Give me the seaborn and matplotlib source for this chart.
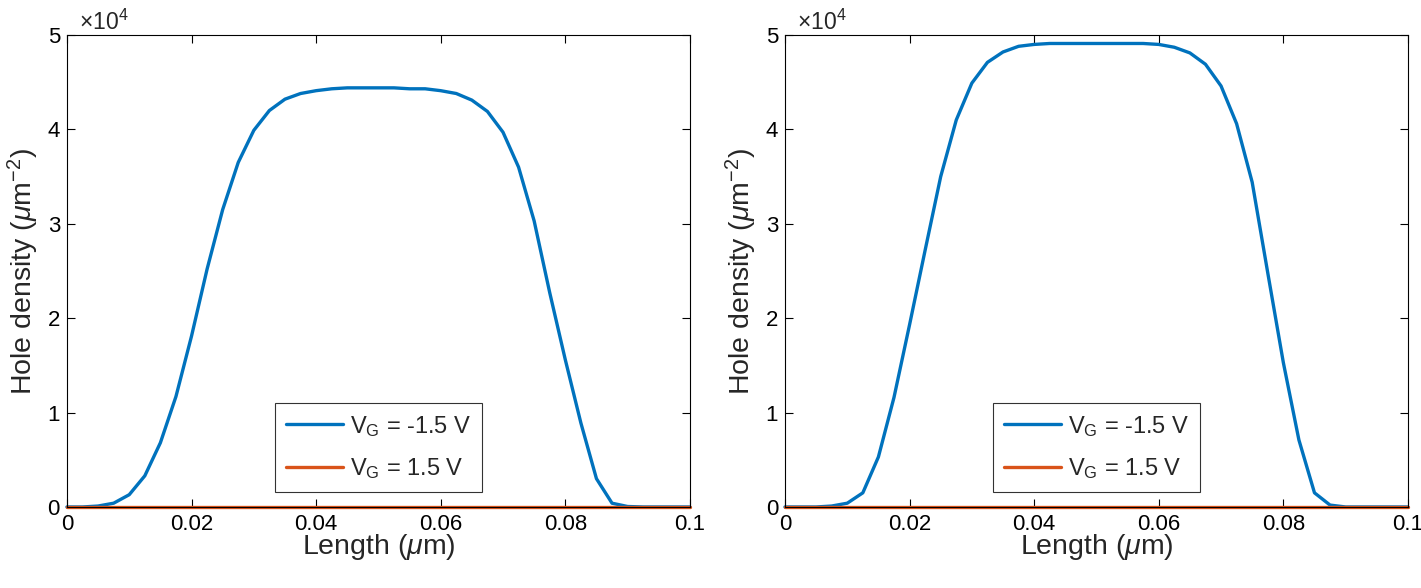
import matplotlib
matplotlib.use("Agg")
import matplotlib.pyplot as plt
import pandas as pd
import seaborn as sns

# длина канала, мкм
length_um = [0.0, 0.0025, 0.005, 0.0075, 0.01, 0.0125, 0.015, 0.0175, 0.02, 0.0225,
             0.025, 0.0275, 0.03, 0.0325, 0.035, 0.0375, 0.04, 0.0425, 0.045, 0.0475,
             0.05, 0.0525, 0.055, 0.0575, 0.06, 0.0625, 0.065, 0.0675, 0.07, 0.0725,
             0.075, 0.0775, 0.08, 0.0825, 0.085, 0.0875, 0.09, 0.0925, 0.095, 0.0975, 0.1]

# плотность дырок, x1e4 мкм^-2
left_neg = [0.0, 0.0, 0.01, 0.04, 0.13, 0.33, 0.68, 1.17, 1.81, 2.52,
            3.15, 3.65, 3.99, 4.20, 4.32, 4.38, 4.41, 4.43, 4.44, 4.44,
            4.44, 4.44, 4.43, 4.43, 4.41, 4.38, 4.31, 4.19, 3.97, 3.60,
            3.03, 2.27, 1.56, 0.89, 0.30, 0.04, 0.005, 0.0, 0.0, 0.0, 0.0]
left_pos = [0.0, 0.0, 0.0, 0.0, 0.0, 0.0, 0.0, 0.0, 0.0, 0.0,
            0.0, 0.0, 0.0, 0.0, 0.0, 0.0, 0.0, 0.0, 0.0, 0.0,
            0.0, 0.0, 0.0, 0.0, 0.0, 0.0, 0.0, 0.0, 0.0, 0.0,
            0.0, 0.0, 0.0, 0.0, 0.0, 0.0, 0.0, 0.0, 0.0, 0.0, 0.0]

right_neg = [0.0, 0.0, 0.0, 0.01, 0.04, 0.15, 0.53, 1.16, 1.93, 2.72,
             3.50, 4.10, 4.49, 4.71, 4.82, 4.88, 4.90, 4.91, 4.91, 4.91,
             4.91, 4.91, 4.91, 4.91, 4.90, 4.87, 4.81, 4.69, 4.46, 4.06,
             3.44, 2.48, 1.53, 0.71, 0.15, 0.02, 0.0, 0.0, 0.0, 0.0, 0.0]
right_pos = [0.0, 0.0, 0.0, 0.0, 0.0, 0.0, 0.0, 0.0, 0.0, 0.0,
             0.0, 0.0, 0.0, 0.0, 0.0, 0.0, 0.0, 0.0, 0.0, 0.0,
             0.0, 0.0, 0.0, 0.0, 0.0, 0.0, 0.0, 0.0, 0.0, 0.0,
             0.0, 0.0, 0.0, 0.0, 0.0, 0.0, 0.0, 0.0, 0.0, 0.0, 0.0]

labels = [r'V$_\mathrm{G}$ = -1.5 V', r'V$_\mathrm{G}$ = 1.5 V']
colors = ['#0072BD', '#D95319']
x_ticks = [0, 0.02, 0.04, 0.06, 0.08, 0.1]
x_tick_labels = ['0', '0.02', '0.04', '0.06', '0.08', '0.1']
y_ticks = [0, 1, 2, 3, 4, 5]

sns.set_style('ticks')
plt.rcParams['font.family'] = ['Liberation Sans', 'DejaVu Sans']
plt.rcParams['mathtext.fontset'] = 'custom'
plt.rcParams['mathtext.rm'] = 'Liberation Sans'
plt.rcParams['mathtext.it'] = 'Liberation Sans:italic'
plt.rcParams['mathtext.sf'] = 'Liberation Sans'

fig = plt.figure(figsize=(14.21, 5.88), dpi=100)
ax_left = fig.add_axes([0.0471, 0.1378, 0.4384, 0.8027])
ax_right = fig.add_axes([0.5524, 0.1378, 0.4384, 0.8027])

panels = [(ax_left, left_neg, left_pos), (ax_right, right_neg, right_pos)]

for ax, neg, pos in panels:
    df = pd.DataFrame({
        'length': length_um * 2,
        'density': neg + pos,
        'bias': [labels[0]] * len(length_um) + [labels[1]] * len(length_um),
    })
    sns.lineplot(data=df, x='length', y='density', hue='bias', hue_order=labels,
                 palette=colors, linewidth=2.4, ax=ax, legend=False, clip_on=False)

    ax.set_xlim(0, 0.1)
    ax.set_ylim(0, 5)
    ax.set_xticks(x_ticks)
    ax.set_xticklabels(x_tick_labels)
    ax.set_yticks(y_ticks)
    ax.tick_params(direction='in', length=6, width=0.8, top=True, right=True,
                   labelsize=16, colors='black', pad=5)
    for sp in ax.spines.values():
        sp.set_visible(True)
        sp.set_linewidth(0.8)
        sp.set_color('black')
    ax.set_xlabel(r'Length ($\mu$m)', fontsize=20.5, labelpad=-2)
    ax.set_ylabel(r'Hole density ($\mu$m$^{-2}$)', fontsize=20.5, labelpad=5)
    ax.text(0.02, 1.0, r'$\times$10$^4$', transform=ax.transAxes,
            fontsize=16.5, ha='left', va='bottom')

    leg = ax.legend(ax.get_lines()[:2], labels, loc='lower center',
                    bbox_to_anchor=(0.5, 0.032), fontsize=17, frameon=True,
                    fancybox=False, edgecolor='black', handlelength=2.4,
                    borderpad=0.45, labelspacing=0.75, handletextpad=0.3,
                    borderaxespad=0)
    leg.get_frame().set_linewidth(0.8)

fig.savefig('out.png', dpi=100)
